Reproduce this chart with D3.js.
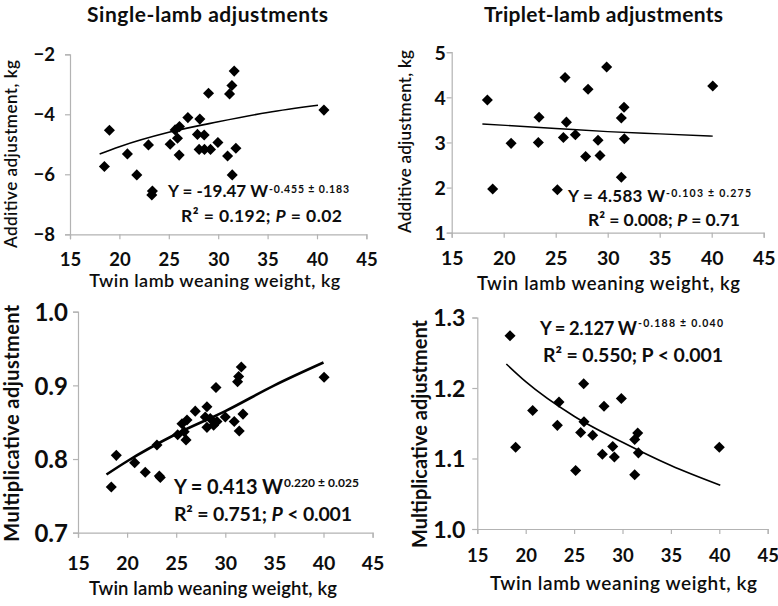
<!DOCTYPE html>
<html><head><meta charset="utf-8">
<script src="https://cdn.jsdelivr.net/npm/d3@7"></script>
<style>
body{margin:0;background:#fff;}
svg{display:block;font-family:Lato,"Open Sans",sans-serif;}
</style></head>
<body><svg id="c" width="778" height="606"></svg>
<script>
// ---------- data ----------
const xTicks = [15, 20, 25, 30, 35, 40, 45];

// Single-lamb additive adjustment (kg) vs twin lamb weaning weight (kg)
const singleAddW = [18.48,18.99,20.81,21.76,22.94,23.34,23.28,25.14,25.64,26.08,25.88,26.05,26.93,28.14,27.9,28.58,28.07,28.61,29.22,29.02,29.97,30.95,31.42,31.15,31.39,31.62,31.79,40.7];
const singleAddY = [-5.74,-4.53,-5.32,-6.02,-5.02,-6.56,-6.69,-5.0,-4.52,-4.41,-4.80,-5.36,-4.11,-4.16,-4.67,-4.69,-5.17,-5.17,-5.17,-3.30,-4.94,-5.39,-6.02,-3.32,-3.04,-2.56,-5.13,-3.86];
const singleAddFitW = [18, 20, 25, 30, 35, 40.1];
const singleAddFitY = [-5.32, -5.08, -4.6, -4.25, -3.94, -3.70];
const singleAddTicks = [-8, -6, -4, -2];

// Triplet-lamb additive adjustment
const tripAddW = [18.43,18.94,20.71,23.40,23.33,25.16,25.74,25.90,26.03,26.89,27.88,28.11,29.07,29.26,29.90,31.31,31.31,31.57,31.6,40.1];
const tripAddY = [3.94,1.97,2.98,3.56,3.0,1.95,3.11,4.44,3.45,3.17,2.69,4.18,3.05,2.71,4.67,3.54,2.23,3.78,3.08,4.25];
const tripAddFitW = [17.95, 25, 30, 35, 40.1];
const tripAddFitY = [3.41, 3.31, 3.24, 3.19, 3.14];
const tripAddTicks = [1, 2, 3, 4, 5];

// Single-lamb multiplicative adjustment
const singleMulW = [18.39,18.9,20.77,21.85,23.04,23.28,23.38,25.15,25.59,25.82,26.0,26.1,26.94,28.13,28.13,28.47,28.81,29.05,29.15,30.0,30.91,31.25,31.36,31.42,31.63,31.8,40.06,27.96];
const singleMulY = [0.762,0.805,0.795,0.782,0.819,0.777,0.775,0.833,0.848,0.837,0.826,0.853,0.865,0.871,0.843,0.855,0.846,0.897,0.851,0.857,0.851,0.905,0.912,0.838,0.925,0.861,0.911,0.857];
const singleMulFitW = [17.9, 20, 25, 30, 35, 40];
const singleMulFitY = [0.779, 0.797, 0.834, 0.865, 0.900, 0.931];
const singleMulTicks = [0.7, 0.8, 0.9, 1.0];

// Triplet-lamb multiplicative adjustment
const tripMulW = [18.38,18.96,20.72,23.44,23.27,25.16,25.68,25.99,26.02,26.92,27.92,28.09,28.99,29.16,29.88,31.26,31.26,31.57,31.64,40.0];
const tripMulY = [1.274,1.116,1.168,1.180,1.147,1.083,1.137,1.206,1.152,1.133,1.106,1.174,1.117,1.102,1.185,1.127,1.077,1.136,1.108,1.116];
const tripMulFitW = [18, 20, 25, 30, 35, 40.1];
const tripMulFitY = [1.234, 1.209, 1.160, 1.123, 1.090, 1.062];
const tripMulTicks = [1.0, 1.1, 1.2, 1.3];

const titles = ["Single-lamb adjustments", "Triplet-lamb adjustments"];
const xTitle = "Twin lamb weaning weight, kg";

// ---------- drawing ----------
const svg = d3.select("#c");
const diamond = d3.symbol().type(d3.symbolDiamond2).size(78);
const INK = "#0d0d0d";

function fitText(sel, len) {
  sel.attr("textLength", len).attr("lengthAdjust", "spacing");
}

function panel(o) {
  const x = d3.scaleLinear().domain([15, 45]).range(o.xr);
  const y = d3.scaleLinear().domain(o.yd).range(o.yr);
  const g = svg.append("g");

  const xa = g.append("g").attr("transform", `translate(0,${o.yr[0]})`)
    .call(d3.axisBottom(x).tickValues(xTicks).tickSize(5).tickPadding(o.xpad));
  const ya = g.append("g").attr("transform", `translate(${o.xr[0]},0)`)
    .call(d3.axisLeft(y).tickValues(o.yticks).tickSize(5).tickPadding(o.ypad).tickFormat(o.yfmt));
  [xa, ya].forEach(a => {
    a.select(".domain").attr("stroke", "#b3b3b3").attr("stroke-width", 1.2);
    a.selectAll(".tick line").attr("stroke", "#b3b3b3").attr("stroke-width", 1.2);
    a.selectAll(".tick text").attr("fill", INK).attr("font-weight", "bold")
      .attr("font-family", "Lato, sans-serif");
  });
  xa.selectAll(".tick text").attr("font-size", o.xfs);
  ya.selectAll(".tick text").attr("font-size", o.yfs).attr("dy", "0.36em");

  // fit line
  const pts = o.fw.map((w, i) => [w, o.fy[i]]);
  g.append("path").datum(pts)
    .attr("fill", "none").attr("stroke", "#000").attr("stroke-width", o.lw)
    .attr("d", d3.line().x(d => x(d[0])).y(d => y(d[1])).curve(d3.curveMonotoneX));

  // points
  g.selectAll("path.pt").data(o.w.map((w, i) => [w, o.y[i]])).join("path")
    .attr("class", "pt").attr("fill", "#000")
    .attr("transform", d => `translate(${x(d[0])},${y(d[1])})`)
    .attr("d", diamond);

  // axis titles
  g.append("text").attr("x", o.xt[0]).attr("y", o.xt[1]).attr("font-size", o.xt[2])
    .attr("font-weight", 600).attr("fill", INK).text(xTitle).call(fitText, o.xt[3]);
  g.append("text").attr("transform", `translate(${o.yt[0]},${o.yt[1]}) rotate(-90)`)
    .attr("font-size", o.yt[2]).attr("font-weight", o.yt[4])
    .attr("fill", INK).text(o.ytitle).call(fitText, o.yt[3]);

  // equation line 1: main + superscript exponent
  const e = o.e1; // [x, baseline, size, width, supSize, supWidth, supRise]
  g.append("text").attr("x", e[0]).attr("y", e[1]).attr("font-size", e[2])
    .attr("font-weight", "bold").attr("fill", INK).text(o.eq[0]).call(fitText, e[3]);
  g.append("text").attr("x", e[0] + e[3] + 1).attr("y", e[1] - e[6]).attr("font-size", e[4])
    .attr("font-weight", "bold").attr("fill", INK).text(o.eq[1]).call(fitText, e[5]);
  // equation line 2
  const f = o.e2; // [x, baseline, size, width]
  const e2 = g.append("text").attr("x", f[0]).attr("y", f[1]).attr("font-size", f[2])
    .attr("font-weight", "bold").attr("fill", INK).call(fitText, f[3]);
  e2.append("tspan").text(o.r2[0]);
  e2.append("tspan").attr("font-style", o.ital ? "italic" : "normal").text(o.r2[1]);
  e2.append("tspan").text(o.r2[2]);
}

panel({xr:[70,366.4], yd:[-8,-2], yr:[234.3,54.3], yticks:singleAddTicks, yfmt:d3.format("d"),
  w:singleAddW, y:singleAddY, fw:singleAddFitW, fy:singleAddFitY, lw:1.6,
  xfs:18.5, yfs:18.5, xpad:14, ypad:10,
  xt:[89.3, 287, 18, 251], yt:[17, 248, 17, 188, 600], ytitle:"Additive adjustment, kg",
  e1:[168, 197, 17, 100, 10.5, 80, 4.5], e2:[181, 222, 17.5, 161], ital:true,
  eq:["Y = -19.47 W", "-0.455 ± 0.183"], r2:["R² = 0.192; ", "P", " = 0.02"]});

panel({xr:[451.7,763.7], yd:[1,5], yr:[232.7,52.2], yticks:tripAddTicks, yfmt:d3.format("d"),
  w:tripAddW, y:tripAddY, fw:tripAddFitW, fy:tripAddFitY, lw:1.4,
  xfs:19.5, yfs:19.5, xpad:13, ypad:1,
  xt:[477, 290, 18.5, 263], yt:[411, 233, 17, 183, 600], ytitle:"Additive adjustment, kg",
  e1:[568, 202, 17, 97, 10.5, 85, 5], e2:[588, 226, 17.5, 152], ital:true,
  eq:["Y = 4.583 W", "-0.103 ± 0.275"], r2:["R² = 0.008; ", "P", " = 0.71"]});

panel({xr:[78,372.6], yd:[0.7,1.0], yr:[532.7,311.7], yticks:singleMulTicks, yfmt:d3.format(".1f"),
  w:singleMulW, y:singleMulY, fw:singleMulFitW, fy:singleMulFitY, lw:2.6,
  xfs:19.5, yfs:24, xpad:18, ypad:5,
  xt:[89, 595, 18.5, 248], yt:[19, 541.7, 20, 237, "bold"], ytitle:"Multiplicative adjustment",
  e1:[174, 494, 20, 109, 12, 75, 7], e2:[174, 521, 19.5, 178], ital:true,
  eq:["Y = 0.413 W", "0.220 ±  0.025"], r2:["R² = 0.751; ", "P", " < 0.001"]});

panel({xr:[477.3,767.7], yd:[1.0,1.3], yr:[529,317.5], yticks:tripMulTicks, yfmt:d3.format(".1f"),
  w:tripMulW, y:tripMulY, fw:tripMulFitW, fy:tripMulFitY, lw:1.6,
  xfs:18.5, yfs:23, xpad:15, ypad:7,
  xt:[490, 590, 19, 267], yt:[427, 548, 20, 228, "bold"], ytitle:"Multiplicative adjustment",
  e1:[540, 334.5, 18.3, 97, 10.5, 85, 7.5], e2:[543, 361.5, 19.5, 180], ital:false,
  eq:["Y = 2.127 W", "-0.188 ± 0.040"], r2:["R² = 0.550; ", "P", " < 0.001"]});

// panel titles
svg.append("text").attr("x", 87).attr("y", 22)
  .attr("font-size", 21).attr("font-weight", "bold").attr("fill", INK).text(titles[0]).call(fitText, 241);
svg.append("text").attr("x", 484).attr("y", 22)
  .attr("font-size", 21).attr("font-weight", "bold").attr("fill", INK).text(titles[1]).call(fitText, 239);
</script></body></html>
